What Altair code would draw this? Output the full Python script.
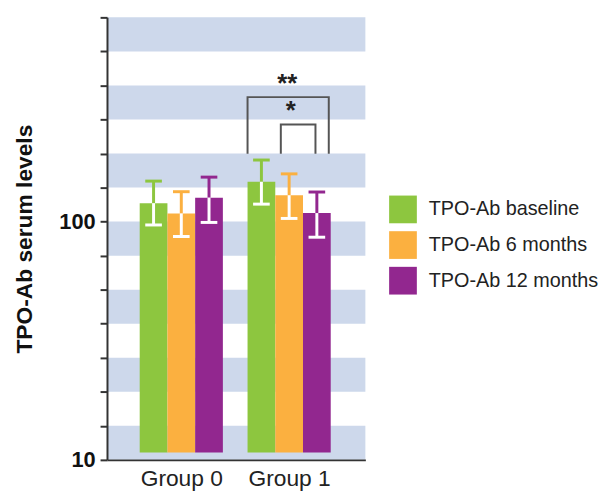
import altair as alt
import pandas as pd

# ---- data ----
groups = ["Group 0", "Group 1"]
series = ["TPO-Ab baseline", "TPO-Ab 6 months", "TPO-Ab 12 months"]
colors = ["#8dc63f", "#fbb040", "#92278f"]
mean_g0 = [119.5, 108.2, 126.0]
mean_g1 = [146.9, 129.0, 108.6]
upper_g0 = [147.9, 133.5, 153.7]
upper_g1 = [181.3, 158.6, 133.1]
lower_g0 = [96.8, 86.6, 99.2]
lower_g1 = [118.4, 103.1, 86.0]
y_label_values = [10, 100]
sig_labels = ["**", "*"]
sig_low = [192.7, 192.7]
sig_top = [333.0, 255.7]

# ---- layout (styling only) ----
X_MAX = 9.32
group_center = [2.68, 6.57]
BASE = 10.75
CAP = 0.3
Y_TOP = 10 ** (2 + 6 / 7)
y_ticks = [10 ** (1 + k / 7) for k in range(14)]
BAND = "#cdd8eb"

means = [mean_g0, mean_g1]
uppers = [upper_g0, upper_g1]
lowers = [lower_g0, lower_g1]

rows = []
for g in range(2):
    for s in range(3):
        xc = group_center[g] + (s - 1)
        rows.append(dict(group=groups[g], series=series[s], color=colors[s],
                         xc=xc, x0=xc - 0.5, x1=xc + 0.5,
                         c0=xc - CAP, c1=xc + CAP,
                         mean=means[g][s], up=uppers[g][s], lo=lowers[g][s],
                         base=BASE, white="#ffffff"))
df = pd.DataFrame(rows)

bands = pd.DataFrame([dict(x0=0, x1=X_MAX, lo=y_ticks[2 * k], hi=y_ticks[2 * k + 1])
                      for k in range(7)])

br_x = [(5.07, 8.0), (6.27, 7.52)]
br_rows = []
for i, (a, b) in enumerate(br_x):
    pts = [(a, sig_low[i]), (a, sig_top[i]), (b, sig_top[i]), (b, sig_low[i])]
    for j, (px, py) in enumerate(pts):
        br_rows.append(dict(b=i, o=j, x=px, y=py))
br = pd.DataFrame(br_rows)
stars = pd.DataFrame(dict(label=sig_labels, x=[6.5, 6.63],
                          y=[sig_top[0], sig_top[1]]))

xs = alt.Scale(domain=[0, X_MAX], nice=False, zero=False)
ys = alt.Scale(type="log", domain=[10, Y_TOP], nice=False)

lab_expr = "datum.value < 4.6 ? '%s' : '%s'" % (groups[0], groups[1])
label_test = " || ".join("abs(datum.value-%g)<0.01" % v for v in y_label_values)
x_axis = alt.Axis(values=group_center, labelExpr=lab_expr, ticks=False, grid=False,
                  title=None, labelFontSize=23, labelColor="#222", labelPadding=8,
                  domainColor="#333", domainWidth=2, labelFont="Liberation Sans",
                  zindex=1)
y_axis = alt.Axis(values=y_ticks,
                  labelExpr="(%s) ? format(datum.value,'d') : ''" % label_test,
                  tickSize=7, tickWidth=2, tickColor="#333", domainColor="#333",
                  domainWidth=2, grid=False, labelFontSize=22, labelFontWeight="bold",
                  labelColor="#111", labelPadding=5, title="TPO-Ab serum levels",
                  titleFontSize=23, titleFontWeight="bold", titleColor="#111",
                  titlePadding=23, labelFont="Liberation Sans", titleFont="Liberation Sans",
                  zindex=1)

band_layer = alt.Chart(bands).mark_rect(color=BAND).encode(
    x=alt.X("x0:Q", scale=xs, axis=x_axis), x2="x1:Q",
    y=alt.Y("lo:Q", scale=ys, axis=y_axis), y2="hi:Q")

bars = alt.Chart(df).mark_rect().encode(
    x=alt.X("x0:Q", scale=xs), x2="x1:Q",
    y=alt.Y("mean:Q", scale=ys), y2="base:Q",
    color=alt.Color("series:N", scale=alt.Scale(domain=series, range=colors),
                    legend=alt.Legend(title=None, orient="none", legendX=285, legendY=180,
                                      symbolType="square", symbolSize=784,
                                      symbolStrokeWidth=0, labelFontSize=20,
                                      labelColor="#222", labelFont="Liberation Sans",
                                      rowPadding=8, labelOffset=12, labelLimit=400)))

up_stem = alt.Chart(df).mark_rule(strokeWidth=3).encode(
    x=alt.X("xc:Q", scale=xs), y=alt.Y("mean:Q", scale=ys), y2="up:Q",
    color=alt.Color("color:N", scale=None))
up_cap = alt.Chart(df).mark_rule(strokeWidth=3).encode(
    x=alt.X("c0:Q", scale=xs), x2="c1:Q", y=alt.Y("up:Q", scale=ys),
    color=alt.Color("color:N", scale=None))
lo_stem = alt.Chart(df).mark_rule(strokeWidth=3).encode(
    x=alt.X("xc:Q", scale=xs), y=alt.Y("lo:Q", scale=ys), y2="mean:Q",
    color=alt.Color("white:N", scale=None))
lo_cap = alt.Chart(df).mark_rule(strokeWidth=3).encode(
    x=alt.X("c0:Q", scale=xs), x2="c1:Q", y=alt.Y("lo:Q", scale=ys),
    color=alt.Color("white:N", scale=None))

brackets = alt.Chart(br).mark_line(color="#555", strokeWidth=2).encode(
    x=alt.X("x:Q", scale=xs), y=alt.Y("y:Q", scale=ys), detail="b:N", order="o:Q")
star_text = alt.Chart(stars).mark_text(fontSize=26, fontWeight="bold", color="#222",
                                       baseline="alphabetic", dy=-5,
                                       font="Liberation Sans").encode(
    x=alt.X("x:Q", scale=xs), y=alt.Y("y:Q", scale=ys), text="label:N")

chart = alt.layer(band_layer, bars, up_stem, up_cap, lo_stem, lo_cap, brackets, star_text).properties(
    width=261, height=447,
    padding={"left": 5, "top": 6, "right": 0, "bottom": 0},
).configure_view(stroke=None)

chart.save("out.html", embed_options={"renderer": "svg", "actions": False})
